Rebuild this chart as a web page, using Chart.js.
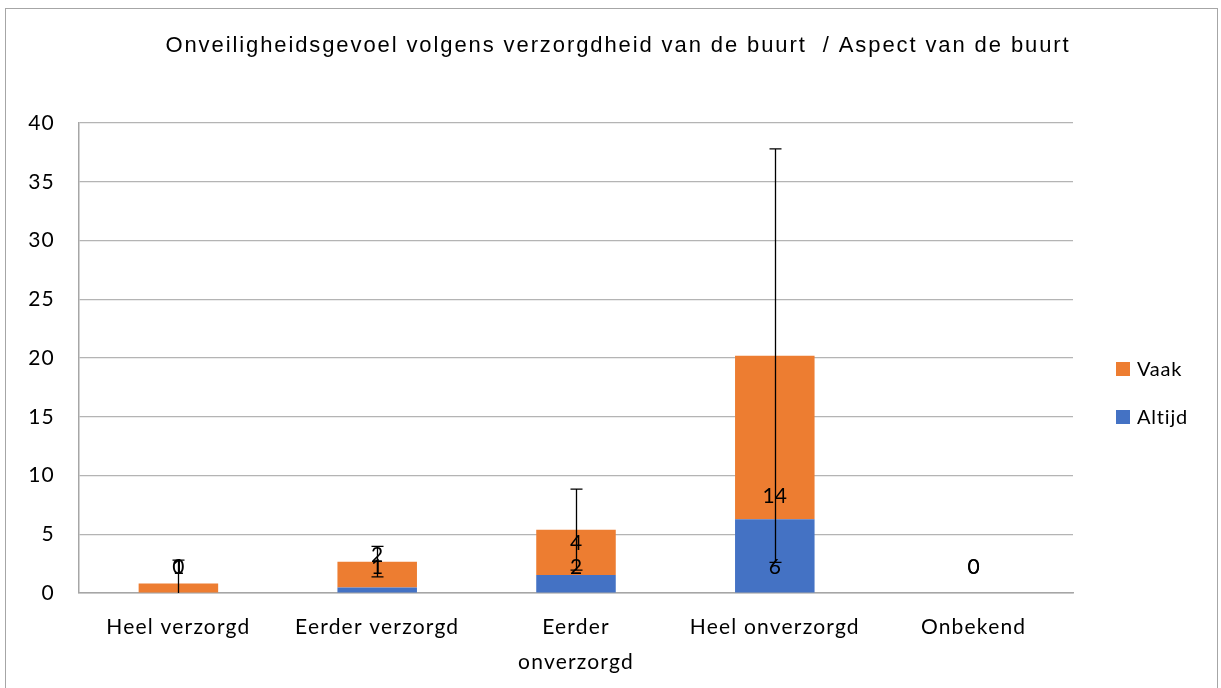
<!DOCTYPE html>
<html>
<head>
<meta charset="utf-8">
<script src="https://cdn.jsdelivr.net/npm/chart.js@4"></script>
<style>
  html, body { margin: 0; padding: 0; background: #fff; }
  #wrap { width: 1221px; height: 688px; }
</style>
</head>
<body>
<div id="wrap"><canvas id="myChart"></canvas></div>
<script>
// data
var categories = ['Heel verzorgd', 'Eerder verzorgd', ['Eerder', 'onverzorgd'], 'Heel onverzorgd', 'Onbekend'];
var altijd = [0, 0.46, 1.54, 6.27, 0];
var vaak = [0.8, 2.21, 3.85, 13.93, 0];
var errAmount = [2.0, 1.3, 3.45, 17.6, null];
var altijdCount = [0, 1, 2, 6, 0];
var vaakCount = [1, 2, 4, 14, 0];
var yTicks = [0, 5, 10, 15, 20, 25, 30, 35, 40];

var titleText = 'Onveiligheidsgevoel volgens verzorgdheid van de buurt  / Aspect van de buurt';
var orange = '#ED7D31';
var blue = '#4472C4';
var font = 'Lato, "Open Sans", sans-serif';

// border, title, legend, error bars and labels
var extras = {
  id: 'extras',
  beforeDraw: function (chart) {
    var c = chart.ctx;
    c.save();
    c.fillStyle = '#fff';
    c.fillRect(0, 0, chart.width, chart.height);
    c.strokeStyle = '#a6a6a6';
    c.lineWidth = 1;
    c.strokeRect(5.5, 8.5, 1212, 700);
    c.restore();
    c.letterSpacing = '1.2px';
  },
  afterDatasetsDraw: function (chart) {
    var c = chart.ctx;
    var x = chart.scales.x, y = chart.scales.y;
    var area = chart.chartArea;
    c.save();

    // error bars around the stack total
    c.beginPath();
    c.rect(area.left, area.top - 2, area.right - area.left, area.bottom - area.top + 2);
    c.clip();
    c.strokeStyle = '#000';
    c.lineWidth = 1.3;
    for (var i = 0; i < categories.length; i++) {
      if (errAmount[i] == null) continue;
      var total = altijd[i] + vaak[i];
      var px = Math.round(x.getPixelForValue(i)) + 0.5;
      var hi = y.getPixelForValue(total + errAmount[i]);
      var lo = y.getPixelForValue(total - errAmount[i]);
      c.beginPath();
      c.moveTo(px, hi); c.lineTo(px, lo);
      c.moveTo(px - 6, hi); c.lineTo(px + 6, hi);
      c.moveTo(px - 6, lo); c.lineTo(px + 6, lo);
      c.stroke();
    }
    c.restore();

    // count labels, inside base
    c.save();
    c.letterSpacing = '0px';
    c.fillStyle = '#000';
    c.font = '21px ' + font;
    c.textAlign = 'center';
    c.textBaseline = 'middle';
    for (var j = 0; j < categories.length; j++) {
      var lx = x.getPixelForValue(j);
      c.fillText(String(altijdCount[j]), lx, y.getPixelForValue(0) - 26);
      c.fillText(String(vaakCount[j]), lx, y.getPixelForValue(altijdCount[j]) - 26);
    }
    c.restore();
  },
  afterDraw: function (chart) {
    var c = chart.ctx;
    c.save();
    c.fillStyle = '#000';
    c.textBaseline = 'middle';
    c.textAlign = 'left';
    c.letterSpacing = '1.9px';
    c.font = '22px "Liberation Sans", Arial, sans-serif';
    var w = c.measureText(titleText).width;
    c.fillText(titleText, 618 - w / 2, 46);

    c.letterSpacing = '0.8px';
    c.font = '20px ' + font;
    var items = [{ t: 'Vaak', col: orange, y: 369 }, { t: 'Altijd', col: blue, y: 417 }];
    items.forEach(function (it) {
      c.fillStyle = it.col;
      c.fillRect(1116, it.y - 7, 14, 14);
      c.fillStyle = '#000';
      c.fillText(it.t, 1137, it.y + 1);
    });
    c.restore();
    c.letterSpacing = '0px';
  }
};

var ctx = document.getElementById('myChart').getContext('2d');
var myChart = new Chart(ctx, {
  type: 'bar',
  data: {
    labels: categories,
    datasets: [
      { label: 'Altijd', data: altijd, backgroundColor: blue, stack: 's' },
      { label: 'Vaak', data: vaak, backgroundColor: orange, stack: 's' }
    ]
  },
  plugins: [extras],
  options: {
    responsive: true,
    maintainAspectRatio: false,
    animation: false,
    layout: {
      padding: { top: 123, right: 148, bottom: 0, left: 0 }
    },
    datasets: {
      bar: { categoryPercentage: 1, barPercentage: 0.40 }
    },
    scales: {
      x: {
        stacked: true,
        grid: { display: false, drawTicks: false },
        border: { color: '#a6a6a6', width: 1.5 },
        ticks: {
          color: '#000',
          font: { family: font, size: 21, lineHeight: 1.7 },
          padding: 16,
          maxRotation: 0,
          autoSkip: false
        },
        afterFit: function (scale) { scale.height = 95; }
      },
      y: {
        stacked: true,
        min: 0,
        max: 40,
        afterBuildTicks: function (scale) {
          scale.ticks = yTicks.map(function (v) { return { value: v }; });
        },
        grid: { color: '#b4b4b4', lineWidth: 1.2, drawTicks: false },
        border: { display: true, color: '#a6a6a6', width: 1.5 },
        ticks: {
          color: '#000',
          font: { family: font, size: 21 },
          padding: 24
        },
        afterFit: function (scale) { scale.width = 79; }
      }
    },
    plugins: {
      legend: { display: false },
      title: { display: false },
      tooltip: { enabled: false }
    }
  }
});
</script>
</body>
</html>
